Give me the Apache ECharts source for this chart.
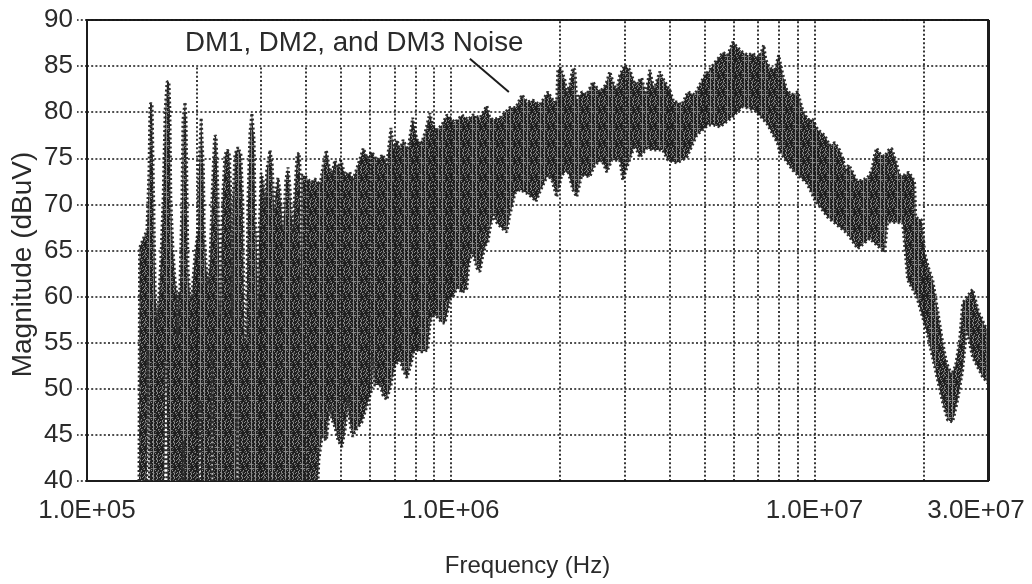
<!DOCTYPE html>
<html><head><meta charset="utf-8">
<style>html,body{margin:0;padding:0;background:#fff}#c{width:1032px;height:584px}</style>
<script src="https://cdn.jsdelivr.net/npm/echarts@6/dist/echarts.min.js"></script>
</head><body><div id="c"></div>
<script>
// Upper edge of the noise band: frequency (kHz) and level (dBuV)
const topKHz=[139,139.5,146.1,148.1,149,150,151,152,153,154,156,158,160,162,164,166,168,169,170,172.4,174.6,176.8,177.4,178,180,182.4,183.6,186,187.2,188.4,189.6,192,194.4,195.6,198,202,203,206,209,210,213,215,218,221,224,225,226.5,229,230.6,232,233.5,236.5,239.5,243,246,249,250.5,252,255,260,265,268,270,271,274,277,280.6,284,288,290,293,295,297,301,305,309,312,318.5,323,327,331,335,339,346,352,357,361,368,373,378,383,385,387,389,397,408,415,423,437,446,455,462,471,480,490,499,512,528,538,556,575,589,607,626,651,667,685,698,712,725,740,763,786,807,833,854,876,893,916,945,976,1027,1074,1115,1151,1203,1257,1281,1306,1365,1454,1510,1570,1620,1682,1758,1850,1910,1955,1970,2008,2060,2085,2125,2165,2195,2220,2293,2365,2458,2570,2670,2737,2808,2862,2916,3010,3107,3207,3352,3436,3526,3618,3756,3854,4002,4105,4185,4318,4484,4688,4838,4994,5154,5320,5457,5598,5776,5960,6155,6350,6555,6765,6985,7165,7255,7350,7534,7778,7975,8130,8390,8660,8995,9285,9585,9895,10210,10670,11010,11370,11730,11960,12190,12420,12740,13060,13480,14000,14370,14640,14820,15200,15590,15990,16300,16720,17150,17700,18150,18620,18860,18980,19710,20100,20600,21140,21820,22520,23100,23830,24450,25070,25550,26400,27220,27740,28270,28800,29340,30000];
const topDb=[40,65.3,67.2,73.7,80.8,81,80.8,73.7,67.2,60.7,57.1,60.7,65,70.9,80.2,83.3,83.3,80.2,70.5,65,61.8,60.2,55.6,60.1,60.7,70.5,79.2,81.1,79.2,70.5,62.9,60.2,59.8,61.8,64.5,67.2,73.7,79.4,73.7,67.2,62.9,61.3,64,71.5,77,77.5,77.3,71.5,65,57.5,65,71.5,75.4,75.9,75.7,70.5,57.5,70.5,75.4,76.2,75.4,70.5,59.6,55.4,55.4,70.5,77.8,79.9,77,68.3,66.1,57.5,66.1,73.4,72.6,69.9,73.7,75.9,74.3,69.4,71.6,72.9,71.6,67.2,72.6,74,72.1,67,71.6,75.4,75.6,74.3,59.6,73.2,73.1,72.6,72.4,72.8,72.1,74.3,75.9,74.3,73.2,74.8,74,74.8,73.2,73.5,72.6,74.3,76.1,75,75.7,74.8,75.4,74.3,78.3,75.9,77,75.9,77,75.9,79.4,77,76.7,78.1,79.9,78.6,78.1,78.6,79.7,78.9,79.7,79.2,79.7,79.4,80.7,79.4,79.2,79.4,80.5,80.5,81.9,81.1,81.3,80.8,82.2,81.3,81.1,84.6,84.8,83.5,82.1,83,84.8,84.6,81.3,82.2,81.9,83.3,82.2,83,84.4,83,82.4,84,85.1,84.6,83,83.7,81.9,84.6,82.4,84.4,83.5,82.4,81.1,81.1,80.8,82.2,81.9,83,84,84.6,85.4,85.9,86.5,86.2,87.6,87,86.5,86.2,86.4,85.9,86.7,87.3,85.7,84.8,84.6,86.2,84.6,82.4,81.9,82.2,80.2,79.2,79.2,78.1,77.5,76.4,76.7,75.9,75,73.7,74.3,73.5,72.6,72.6,72.9,73.7,75.4,76.1,75.4,75.2,75.9,76.1,74.8,73.2,73.2,73.5,72.9,72.3,68.6,68.3,64.7,63.1,61.8,58.5,55,52.8,51.5,52.6,55.3,59.3,60.1,60.8,59.6,58.3,57.7,56.9,56.4];
// Lower edge of the noise band
const lowKHz=[139,146.1,147.1,148.6,163,164,164.7,165.5,166.5,183.6,184.2,184.8,203,204.5,205.8,220,220.7,221.7,257.6,258.5,259.7,431.5,434,443,455,465.5,472,480,490,502,512,518,522,525,532,538,548,570,589,600,607,609,611,617,631,639,651,667,685,703,725,740,758,777,792,807,833,865,876,893,922,945,964,982,995,1014,1034,1047,1074,1108,1122,1144,1151,1180,1203,1226,1249,1265,1289,1314,1339,1383,1427,1454,1473,1501,1549,1620,1682,1714,1769,1850,1898,1955,2021,2099,2165,2220,2293,2412,2490,2603,2686,2772,2916,2973,3068,3207,3310,3460,3595,3829,3953,4185,4456,4745,5090,5285,5491,5960,6350,6855,7395,7900,8026,8718,9525,10020,10880,12270,13150,14180,15590,15890,17480,18040,19100,20350,21400,22520,23240,23990,24760,25550,26200,27220,28980,30000];
const lowDb=[40,40,54.2,40,40,48.6,53.1,48.6,40,40,44.4,40,40,48.8,40,40,54.2,40,40,49.5,40,40,42.3,44.8,44.4,48,46.6,45.9,44.4,43.7,45.5,47.2,49.1,47.2,45.5,44.8,45.5,46.4,48.2,49.3,49.9,53.4,53.4,50.4,50.4,50.6,49.3,48.8,50.4,52.6,53.1,52,51.2,52.6,54,54.2,54,54.2,56.9,58.2,57.7,57.2,57.1,58.5,59.8,60,60.7,61,60.4,60.9,63.4,64.8,64.7,63.1,62.7,64.5,65.6,65.9,67.8,68.9,68,67.4,67,68.9,69.7,71.2,71.6,71.2,70.7,70.3,71.6,73.2,72.6,70.8,73.2,73.7,71.6,70.8,73.2,73,74.3,74.8,73.5,74.8,74.8,72.6,74.3,76.4,75.1,76.1,75.9,75.9,74.8,74.5,75.1,77.5,78.6,78.6,78.4,79.5,80.6,80.2,78.8,76.7,75.7,73.7,72.3,70.5,68.6,66.9,65.2,66.3,64.8,68.1,68,61.8,60,56.2,52.4,48.5,46.6,46.4,48.8,52,56.4,53.4,51.3,50.6];
// Vertical grid frequencies (Hz): those under the text box stop at 85 dB
const lowGrid=[2e5,3e5,4e5,5e5,6e5,7e5,8e5,9e5,1e6];
const highGrid=[2e6,3e6,4e6,5e6,6e6,7e6,8e6,9e6,1e7,2e7];
const xTickLabels={1e5:'1.0E+05',1e6:'1.0E+06',1e7:'1.0E+07',3e7:'3.0E+07'};
const annotation='DM1, DM2, and DM3 Noise';
const pointerFreq=[1129000,1445000];
const pointerDb=[85.8,82.2];

const font='"Liberation Sans",Arial,sans-serif';
const ink='#2a2a2a';
const tile=document.createElement('canvas');tile.width=tile.height=17;
const g=tile.getContext('2d');g.fillStyle='#1f1f1f';g.fillRect(0,0,17,17);
for(let i=0;i<17;i++)for(let j=0;j<17;j++){
  const h=(i*i*7+j*j*13+i*j*3+i*5)%13;
  if(h<2){g.fillStyle='#8a8a8a';g.fillRect(i,j,1,1);}
  else if(h<4){g.fillStyle='#555';g.fillRect(i,j,1,1);}
}

const outline=topKHz.map((k,i)=>[k*1e3,topDb[i]]).concat(
  lowKHz.map((k,i)=>[k*1e3,lowDb[i]]).reverse());
const dot={color:'#161616',width:1.7,type:[2,2.2]};
const chart=echarts.init(document.getElementById('c'),null,{renderer:'canvas'});
chart.setOption({
  animation:false,backgroundColor:'#fff',
  grid:{left:87,right:44,top:20,bottom:103,outerBoundsMode:'none',show:true,borderColor:'#1c1c1c',borderWidth:2,backgroundColor:'transparent'},
  xAxis:{type:'log',logBase:10,min:1e5,max:3e7,
    name:'Frequency (Hz)',nameLocation:'middle',nameGap:73,
    nameTextStyle:{fontFamily:font,fontSize:24,color:ink,padding:[0,20,0,0]},
    axisLine:{show:true,lineStyle:{color:'#1c1c1c',width:2}},axisTick:{show:false},splitLine:{show:false},minorTick:{show:false},minorSplitLine:{show:false},
    axisLabel:{margin:17,fontFamily:font,fontSize:26,color:ink,showMinLabel:true,showMaxLabel:true,hideOverlap:false,
      formatter:v=>{const s=xTickLabels[Math.round(v)]||'';return Math.round(v)===3e7?'{r|'+s+'}':s;},
      rich:{r:{fontFamily:font,fontSize:26,color:ink,padding:[0,24,0,0]}}}},
  yAxis:{type:'value',min:40,max:90,interval:5,
    name:'Magnitude (dBuV)',nameLocation:'middle',nameGap:50,nameMoveOverlap:false,
    nameTextStyle:{fontFamily:font,fontSize:28,color:ink,padding:[0,28,0,0]},
    axisLine:{show:true,lineStyle:{color:'#1c1c1c',width:2}},
    axisTick:{show:true,length:10,lineStyle:{color:'#161616',width:1.7,type:[2,2.2]}},
    axisLabel:{margin:14,fontFamily:font,fontSize:26,color:ink},
    splitLine:{show:true,lineStyle:dot}},
  graphic:[{type:'text',left:185,top:29,silent:true,style:{text:annotation,font:'27.7px '+font,fill:ink}}],
  series:[
    {type:'line',data:[],silent:true,z:1,markLine:{silent:true,symbol:'none',label:{show:false},animation:false,lineStyle:dot,
      data:lowGrid.map(f=>[{coord:[f,40]},{coord:[f,85]}]).concat(highGrid.map(f=>[{coord:[f,40]},{coord:[f,90]}]))}},
    {type:'custom',z:3,silent:true,coordinateSystem:'cartesian2d',data:outline,clip:true,
      encode:{x:0,y:1},
      renderItem:(p,api)=>p.dataIndex!==0?null:{type:'polygon',
        shape:{points:outline.map(q=>api.coord(q))},
        style:{fill:{image:tile,repeat:'repeat'},stroke:'#2c2c2c',lineWidth:3,lineDash:[2,2.5],lineJoin:'bevel'}}},
    {type:'line',data:[],silent:true,z:4,markLine:{silent:true,symbol:'none',label:{show:false},animation:false,
      data:[[{coord:[pointerFreq[0],pointerDb[0]],lineStyle:{color:'#1c1c1c',width:2,type:'solid'}},{coord:[pointerFreq[1],pointerDb[1]]}],
            [{coord:[3e7,40],lineStyle:{color:'#1c1c1c',width:3,type:'solid'}},{coord:[3e7,90]}]]}}
  ]
});
</script></body></html>
